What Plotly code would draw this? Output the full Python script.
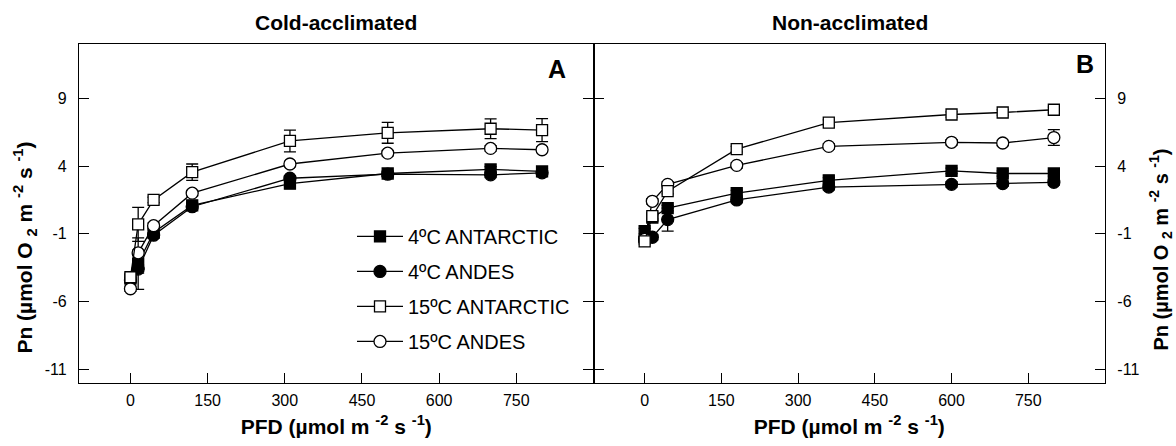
import plotly.graph_objects as go

# ---------------- data ----------------
pfd_a = [0, 15, 45, 120, 310, 500, 700, 800]
pfd_b = [0, 15, 45, 180, 360, 600, 700, 800]

series_names = ["4ºC ANTARCTIC", "4ºC ANDES", "15ºC ANTARCTIC", "15ºC ANDES"]

# Panel A: cold-acclimated
a_4_ant = [-4.3, -3.2, -0.9, 1.1, 2.7, 3.45, 3.75, 3.6]
a_4_andes = [-4.4, -3.6, -1.1, 1.0, 3.1, 3.4, 3.35, 3.5]
a_15_ant = [-4.2, -0.3, 1.5, 3.55, 5.85, 6.45, 6.75, 6.65]
a_15_andes = [-5.05, -2.4, -0.4, 2.0, 4.15, 4.95, 5.3, 5.2]

a_4_ant_err = [0.2, 1.9, 0.2, 0.2, 0.2, 0.2, 0.2, 0.2]
a_4_andes_err = [0.2, 0.3, 0.2, 0.2, 0.2, 0.2, 0.2, 0.2]
a_15_ant_err = [0.2, 1.25, 0.2, 0.6, 0.8, 0.77, 0.73, 0.85]
a_15_andes_err = [0.2, 0.2, 0.2, 0.2, 0.2, 0.2, 0.2, 0.2]

# Panel B: non-acclimated
b_4_ant = [-0.8, 0.2, 0.9, 2.0, 2.95, 3.65, 3.45, 3.45]
b_4_andes = [-1.45, -1.25, 0.05, 1.5, 2.45, 2.65, 2.7, 2.8]
b_15_ant = [-1.55, 0.3, 2.15, 5.25, 7.2, 7.8, 7.95, 8.15]
b_15_andes = [-1.4, 1.4, 2.65, 4.05, 5.45, 5.75, 5.7, 6.1]

b_4_ant_err = [0.2, 0.2, 0.2, 0.2, 0.2, 0.2, 0.2, 0.2]
b_4_andes_err = [0.2, 0.2, 0.85, 0.2, 0.2, 0.2, 0.2, 0.2]
b_15_ant_err = [0.2, 0.2, 0.2, 0.2, 0.2, 0.2, 0.2, 0.2]
b_15_andes_err = [0.2, 0.2, 0.2, 0.2, 0.2, 0.2, 0.2, 0.58]

x_ticks = [0, 150, 300, 450, 600, 750]
x_tick_labels = ["0", "150", "300", "450", "600", "750"]
y_ticks = [-11, -6, -1, 4, 9]
y_tick_labels = ["-11", "-6", "-1", "4", "9"]
x_range = [-100, 900]
y_range = [-12, 13]

panel_titles = ["Cold-acclimated", "Non-acclimated"]
panel_letters = ["A", "B"]

# ---------------- styling ----------------
FONT = "Liberation Sans, Arial, sans-serif"
styles = {
    "4ºC ANTARCTIC": dict(symbol="square", color="black", size=11),
    "4ºC ANDES": dict(symbol="circle", color="black", size=12),
    "15ºC ANTARCTIC": dict(symbol="square", color="white", size=11),
    "15ºC ANDES": dict(symbol="circle", color="white", size=12),
}
legend_rank = {n: i + 1 for i, n in enumerate(series_names)}

panel_a = {
    "4ºC ANTARCTIC": (a_4_ant, a_4_ant_err),
    "4ºC ANDES": (a_4_andes, a_4_andes_err),
    "15ºC ANTARCTIC": (a_15_ant, a_15_ant_err),
    "15ºC ANDES": (a_15_andes, a_15_andes_err),
}
panel_b = {
    "4ºC ANTARCTIC": (b_4_ant, b_4_ant_err),
    "4ºC ANDES": (b_4_andes, b_4_andes_err),
    "15ºC ANTARCTIC": (b_15_ant, b_15_ant_err),
    "15ºC ANDES": (b_15_andes, b_15_andes_err),
}

draw_order = ["4ºC ANDES", "4ºC ANTARCTIC", "15ºC ANDES", "15ºC ANTARCTIC"]

fig = go.Figure()
for panel, xs, xa, ya, show in [(panel_a, pfd_a, "x", "y", True), (panel_b, pfd_b, "x2", "y2", False)]:
    for name in draw_order:
        vals, errs = panel[name]
        st = styles[name]
        fig.add_trace(go.Scatter(
            x=xs, y=vals, name=name, xaxis=xa, yaxis=ya,
            mode="lines+markers",
            line=dict(color="black", width=1.3),
            marker=dict(symbol=st["symbol"], size=st["size"], color=st["color"],
                        line=dict(color="black", width=1.3)),
            error_y=dict(type="data", array=errs, visible=True, color="black",
                         thickness=1.3, width=6),
            legendgroup=name, showlegend=show, legendrank=legend_rank[name],
        ))

W, H = 1176, 446
L, R, T, B = 79, 71, 44, 59
pw, ph = W - L - R, H - T - B
split = (593.5 - L) / pw

axis_common = dict(
    showline=True, linecolor="black", linewidth=1.3,
    ticks="inside", ticklen=10, tickwidth=1.3, tickcolor="black",
    showgrid=False, zeroline=False,
    tickfont=dict(family=FONT, size=16, color="black"),
)

xtitle = "<b>PFD (µmol m <sup>-2</sup> s <sup>-1</sup>)</b>"
fig.update_layout(
    width=W, height=H,
    margin=dict(l=L, r=R, t=T, b=B),
    paper_bgcolor="white", plot_bgcolor="white",
    font=dict(family=FONT, color="black"),
    xaxis=dict(domain=[0, split], range=x_range, tickvals=x_ticks,
               ticktext=x_tick_labels, mirror=True,
               anchor="y", ticklabelstandoff=3,
               title=dict(text=xtitle, font=dict(family=FONT, size=21), standoff=10),
               **axis_common),
    xaxis2=dict(domain=[split, 1], range=x_range, tickvals=x_ticks,
                ticktext=x_tick_labels, mirror=True,
                anchor="y2", ticklabelstandoff=3,
                title=dict(text=xtitle, font=dict(family=FONT, size=21), standoff=10),
                **axis_common),
    yaxis=dict(range=y_range, tickvals=y_ticks, ticktext=y_tick_labels,
               mirror="ticks", anchor="x", ticklabelstandoff=8, **axis_common),
    yaxis2=dict(range=y_range, tickvals=y_ticks, ticktext=y_tick_labels,
                mirror="ticks", anchor="x2", side="right", ticklabelstandoff=8,
                **axis_common),
    legend=dict(
        x=(352 - L) / pw, y=(H - B - 219) / ph, xanchor="left", yanchor="top",
        font=dict(family=FONT, size=20, color="black"),
        bgcolor="rgba(0,0,0,0)", borderwidth=0,
        tracegroupgap=6, itemwidth=46, traceorder="grouped",
    ),
    showlegend=True,
)

ytitle = "<b>Pn (µmol O <sub>2</sub> m <sup>-2</sup> s <sup>-1</sup>)</b>"
annos = [
    dict(text=f"<b>{panel_titles[0]}</b>", x=(336 - L) / pw, y=(H - B - 22) / ph,
         font=dict(size=21)),
    dict(text=f"<b>{panel_titles[1]}</b>", x=(850 - L) / pw, y=(H - B - 22) / ph,
         font=dict(size=21)),
    dict(text=f"<b>{panel_letters[0]}</b>", x=(557 - L) / pw, y=(H - B - 69) / ph,
         font=dict(size=25)),
    dict(text=f"<b>{panel_letters[1]}</b>", x=(1085 - L) / pw, y=(H - B - 64) / ph,
         font=dict(size=25)),
    dict(text=ytitle, x=(25 - L) / pw, y=(H - B - 250) / ph, textangle=-90,
         font=dict(size=21)),
    dict(text=ytitle, x=(1161 - L) / pw, y=(H - B - 252) / ph, textangle=-90,
         font=dict(size=20)),
]
for a in annos:
    a.update(xref="paper", yref="paper", showarrow=False, xanchor="center",
             yanchor="middle")
    a["font"].update(family=FONT, color="black")
fig.update_layout(annotations=annos)

fig.write_html("out.html", config={"displayModeBar": False},
               post_script="document.body.style.margin='0';")
